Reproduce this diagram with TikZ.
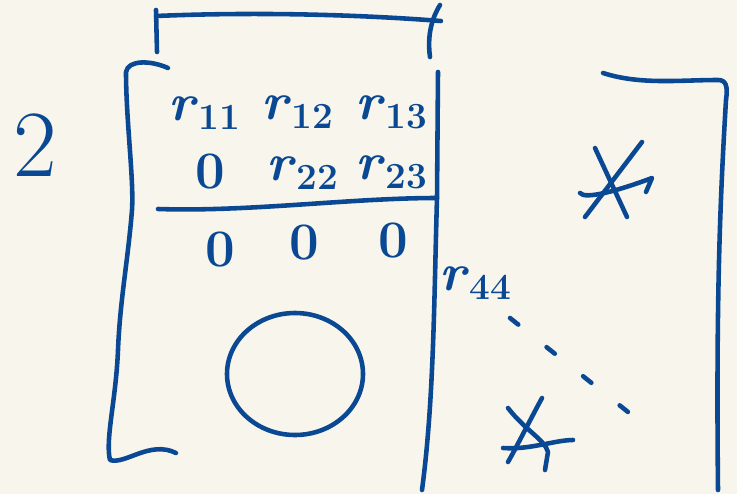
\documentclass[tikz,border=0pt]{standalone}
\usepackage{amsmath}
\usepackage{tikz}
\usetikzlibrary{positioning,calc}
\definecolor{paper}{RGB}{248,246,236}
\definecolor{inkblue}{RGB}{10,72,148}
\newcommand{\rsub}[1]{\textit{r}\textsubscript{#1}}

\begin{document}
\begin{tikzpicture}[x=0.02cm,y=-0.02cm,line width=2.6pt,line cap=round,line join=round,
    pen/.style={draw=inkblue},
    entry/.style={inkblue,inner sep=0pt,font=\fontsize{30}{32}\selectfont\bfseries}]
  \fill[paper] (0,0) rectangle (737,494);
  \useasboundingbox (0,0) rectangle (737,494);

  % block number
  \node[entry,font=\fontsize{54}{56}\selectfont] (num) at (35,145) {2};

  % brace over the block
  \draw[pen] (157,52) -- (156,10);
  \draw[pen] (156,16) .. controls (250,12) and (350,14) .. (441,21);
  \draw[pen] (430,57) .. controls (427,35) and (432,18) .. (440,5);

  % left bracket
  \draw[pen] (168,68) .. controls (150,60) and (128,60) .. (126,72)
     .. controls (126,120) and (134,180) .. (132,210)
     .. controls (128,260) and (120,300) .. (118,350)
     .. controls (116,400) and (105,440) .. (110,460)
     .. controls (125,465) and (150,440) .. (176,453);

  % right edge and row separator
  \draw[pen] (438,72) -- (437,198) .. controls (434,300) and (434,400) .. (422,490);
  \draw[pen] (158,209) .. controls (250,212) and (350,198) .. (437,198);

  % upper rows
  \foreach \nm/\px/\py/\txt in {r11/205/113/{\rsub{11}},r12/298/112/{\rsub{12}},r13/392/112/{\rsub{13}},
      z21/210/172/{0},r22/303/173/{\rsub{22}},r23/392/172/{\rsub{23}}}
    \node[entry] (\nm) at (\px,\py) {\txt};

  % zeros under the separator
  \foreach \nm/\px/\py in {z31/220/250,z32/304/243,z33/393/241}
    \node[entry] (\nm) at (\px,\py) {0};

  \draw[pen] (295,374) ellipse [x radius=68,y radius=61];

  % right block
  \draw[pen] (603,73) .. controls (640,85) and (680,80) .. (718,80)
     .. controls (726,80) and (728,86) .. (726,100)
     .. controls (720,200) and (716,300) .. (718,490);

  \draw[pen] (595,148) -- (627,217);
  \draw[pen] (642,142) -- (585,217);
  \draw[pen] (580,193) .. controls (585,200) and (620,190) .. (652,178) -- (646,192);

  \node[entry] (r44) at (476,283) {\rsub{44}};
  \coordinate (dotsstart) at (510,318);
  \coordinate (dotsend) at (628,412);
  \draw[pen,dash pattern=on 6pt off 20.6pt] (dotsstart) -- (dotsend);

  \draw[pen] (508,408) .. controls (525,430) and (545,440) .. (548,452) -- (545,470);
  \draw[pen] (542,398) .. controls (530,420) and (515,450) .. (508,462);
  \draw[pen] (503,448) .. controls (530,450) and (555,440) .. (573,440);
\end{tikzpicture}
\end{document}
